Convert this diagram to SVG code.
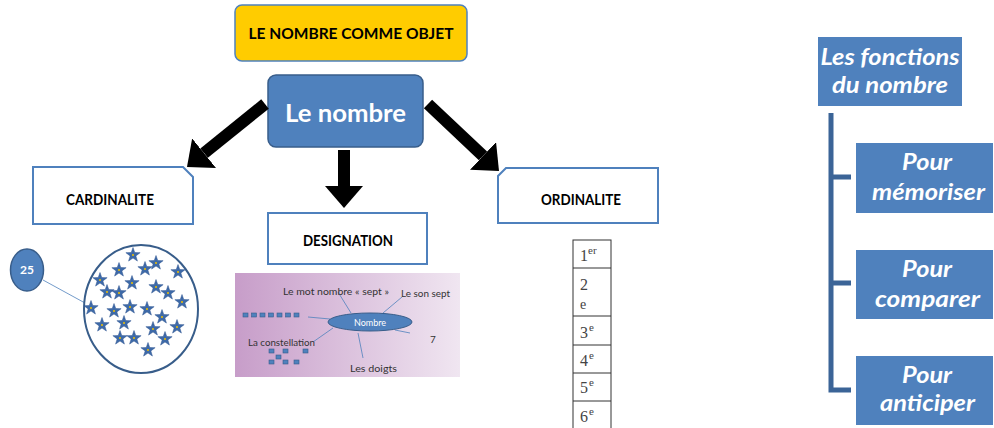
<svg xmlns="http://www.w3.org/2000/svg" width="994" height="428" viewBox="0 0 994 428">
<defs>
<style>
text{font-family:Lato,"Liberation Sans",sans-serif}
.lbl{font-weight:bold;fill:#000;text-anchor:middle}
.wt{fill:#fff;font-weight:bold;font-style:italic;text-anchor:middle;font-size:22px}
.ob{fill:none;stroke:#4F81BD;stroke-width:2}
.bluebox{fill:#4F81BD}
.arrow{stroke:#000;stroke-width:12;fill:none}
.pic{fill:#333;font-size:10px}
.sq{fill:#4F81BD;stroke:#385D8A;stroke-width:0.6}
.ord{font-family:"Liberation Serif","DejaVu Serif",serif;fill:#444}
</style>
<linearGradient id="pg" x1="0" y1="0" x2="1" y2="0">
<stop offset="0" stop-color="#C79DC9"/>
<stop offset="1" stop-color="#F0E6F1"/>
</linearGradient>
<marker id="ah" viewBox="0 0 22 38" refX="0" refY="19" markerWidth="22" markerHeight="38" markerUnits="userSpaceOnUse" orient="auto">
<path d="M0,0 L22,19 L0,38 Z" fill="#000"/>
</marker>
<g id="star">
<path d="M0,-7.5 L1.76,-2.43 L7.13,-2.32 L2.85,0.93 L4.41,6.07 L0,3 L-4.41,6.07 L-2.85,0.93 L-7.13,-2.32 L-1.76,-2.43 Z" fill="#3E6AA8" stroke="#2F5490" stroke-width="0.5"/>
<circle r="1" fill="#F2C200"/>
</g>
</defs>

<g id="titre">
<rect x="235" y="5" width="232" height="56" rx="7" fill="#FFCC00" stroke="#4F81BD" stroke-width="1.5"/>
<text class="lbl" x="351" y="38.5" font-size="15" textLength="205" lengthAdjust="spacingAndGlyphs">LE NOMBRE COMME OBJET</text>
</g>

<g id="le-nombre">
<rect x="268" y="75" width="155" height="72" rx="8" fill="#4F81BD" stroke="#385D8A" stroke-width="1.5"/>
<text x="345.5" y="122" font-size="24" font-weight="bold" fill="#fff" text-anchor="middle" textLength="121" lengthAdjust="spacingAndGlyphs">Le nombre</text>
</g>

<g id="connecteurs">
<line class="arrow" x1="265" y1="104" x2="204.1" y2="153.2" marker-end="url(#ah)"/>
<line class="arrow" x1="344" y1="150" x2="344" y2="186" marker-end="url(#ah)"/>
<line class="arrow" x1="428" y1="104" x2="483" y2="155.9" marker-end="url(#ah)"/>
<line x1="43" y1="280" x2="85" y2="303" stroke="#4F81BD" stroke-width="0.8"/>
<path d="M831,113 V390 H851 M831,177 H851 M831,283 H851" fill="none" stroke="#3B6497" stroke-width="5"/>
</g>

<g id="cardinalite">
<path class="ob" d="M33,167 H183 L193,177 V224 H33 Z" fill="#fff"/>
<text class="lbl" x="110" y="204.5" font-size="15" textLength="88" lengthAdjust="spacingAndGlyphs">CARDINALITE</text>
</g>

<g id="designation">
<rect class="ob" x="268" y="213" width="159" height="51" fill="#fff"/>
<text class="lbl" x="348" y="245.5" font-size="15" textLength="90" lengthAdjust="spacingAndGlyphs">DESIGNATION</text>
</g>

<g id="ordinalite">
<path class="ob" d="M506,168 H658 V223 H498 V176 Z" fill="#fff"/>
<text class="lbl" x="581" y="204.5" font-size="15" textLength="80" lengthAdjust="spacingAndGlyphs">ORDINALITE</text>
</g>

<g id="nombre-25">
<ellipse cx="27" cy="270" rx="16.5" ry="21" fill="#4F81BD" stroke="#385D8A" stroke-width="1.5"/>
<text x="27" y="274" font-size="12" font-weight="bold" fill="#fff" text-anchor="middle">25</text>
</g>

<g id="ensemble-etoiles">
<ellipse cx="141" cy="309" rx="57" ry="64" fill="#fff" stroke="#385D8A" stroke-width="2"/>
<use href="#star" x="133" y="255"/>
<use href="#star" x="119" y="270"/>
<use href="#star" x="145" y="269"/>
<use href="#star" x="156" y="263"/>
<use href="#star" x="178" y="272"/>
<use href="#star" x="100" y="280"/>
<use href="#star" x="107" y="292"/>
<use href="#star" x="119" y="293"/>
<use href="#star" x="132" y="283"/>
<use href="#star" x="156" y="287"/>
<use href="#star" x="168" y="293"/>
<use href="#star" x="182" y="302"/>
<use href="#star" x="91" y="308"/>
<use href="#star" x="114" y="311"/>
<use href="#star" x="130" y="307"/>
<use href="#star" x="147" y="309"/>
<use href="#star" x="162" y="317"/>
<use href="#star" x="102" y="325"/>
<use href="#star" x="124" y="323"/>
<use href="#star" x="153" y="329"/>
<use href="#star" x="177" y="327"/>
<use href="#star" x="120" y="338"/>
<use href="#star" x="134" y="338"/>
<use href="#star" x="165" y="339"/>
<use href="#star" x="148" y="350"/>
</g>

<g id="designation-image">
<rect x="235" y="273" width="225" height="104" fill="url(#pg)"/>
<g stroke="#4F81BD" stroke-width="0.8">
<line x1="338" y1="292" x2="351" y2="313"/>
<line x1="383" y1="313" x2="402" y2="297"/>
<line x1="308" y1="317" x2="330" y2="319"/>
<line x1="395" y1="330" x2="410" y2="333"/>
<line x1="333" y1="328" x2="313" y2="342"/>
<line x1="358" y1="333" x2="363" y2="358"/>
</g>
<ellipse cx="370" cy="322" rx="42" ry="9" fill="#4F81BD" stroke="#385D8A" stroke-width="1"/>
<text x="370" y="325.5" font-size="9" fill="#fff" text-anchor="middle">Nombre</text>
<text class="pic" x="283" y="295" textLength="106" lengthAdjust="spacingAndGlyphs">Le mot nombre « sept »</text>
<text class="pic" x="401" y="297" textLength="49" lengthAdjust="spacingAndGlyphs">Le son sept</text>
<text class="pic" x="248" y="346" textLength="67" lengthAdjust="spacingAndGlyphs">La constellation</text>
<text class="pic" x="430" y="343" font-size="11">7</text>
<text class="pic" x="350" y="372" font-size="11" textLength="47" lengthAdjust="spacingAndGlyphs">Les doigts</text>
<rect class="sq" x="243" y="313" width="5" height="4"/>
<rect class="sq" x="251.5" y="313" width="5" height="4"/>
<rect class="sq" x="260" y="313" width="5" height="4"/>
<rect class="sq" x="268.5" y="313" width="5" height="4"/>
<rect class="sq" x="277" y="313" width="5" height="4"/>
<rect class="sq" x="285.5" y="313" width="5" height="4"/>
<rect class="sq" x="294" y="313" width="5" height="4"/>
<rect class="sq" x="269" y="349" width="5" height="4"/>
<rect class="sq" x="283" y="349" width="5" height="4"/>
<rect class="sq" x="303" y="349" width="5" height="4"/>
<rect class="sq" x="276" y="355" width="5" height="4"/>
<rect class="sq" x="269" y="360" width="5" height="4"/>
<rect class="sq" x="283" y="360" width="5" height="4"/>
<rect class="sq" x="294" y="360" width="5" height="4"/>
</g>

<g id="tableau-ordinal">
<rect x="573" y="240" width="38" height="200" fill="#fff" stroke="#333" stroke-width="1"/>
<path d="M573,268 H611 M573,316 H611 M573,345 H611 M573,373 H611 M573,401 H611" stroke="#333" stroke-width="1"/>
<text class="ord" x="580" y="261" font-size="16">1</text><text class="ord" x="588" y="254" font-size="11">er</text>
<text class="ord" x="580" y="290" font-size="16">2</text>
<text class="ord" x="580" y="309" font-size="14">e</text>
<text class="ord" x="580" y="338" font-size="16">3</text><text class="ord" x="589" y="331" font-size="11">e</text>
<text class="ord" x="580" y="366" font-size="16">4</text><text class="ord" x="589" y="359" font-size="11">e</text>
<text class="ord" x="580" y="393" font-size="16">5</text><text class="ord" x="589" y="386" font-size="11">e</text>
<text class="ord" x="580" y="422" font-size="16">6</text><text class="ord" x="589" y="415" font-size="11">e</text>
</g>

<g id="fonctions">
<rect class="bluebox" x="818" y="37" width="144" height="69"/>
<text class="wt" x="890" y="65" textLength="139" lengthAdjust="spacingAndGlyphs">Les fonctions</text>
<text class="wt" x="890" y="93" textLength="116" lengthAdjust="spacingAndGlyphs">du nombre</text>
</g>

<g id="memoriser">
<rect class="bluebox" x="856" y="143" width="137" height="70"/>
<text class="wt" x="927" y="170" textLength="50" lengthAdjust="spacingAndGlyphs">Pour</text>
<text class="wt" x="928.5" y="200" textLength="113" lengthAdjust="spacingAndGlyphs">mémoriser</text>
</g>

<g id="comparer">
<rect class="bluebox" x="856" y="250" width="137" height="69"/>
<text class="wt" x="927" y="277" textLength="50" lengthAdjust="spacingAndGlyphs">Pour</text>
<text class="wt" x="927.5" y="307" textLength="105" lengthAdjust="spacingAndGlyphs">comparer</text>
</g>

<g id="anticiper">
<rect class="bluebox" x="856" y="356" width="137" height="69"/>
<text class="wt" x="927" y="383" textLength="50" lengthAdjust="spacingAndGlyphs">Pour</text>
<text class="wt" x="927.5" y="411" textLength="95" lengthAdjust="spacingAndGlyphs">anticiper</text>
</g>
</svg>
